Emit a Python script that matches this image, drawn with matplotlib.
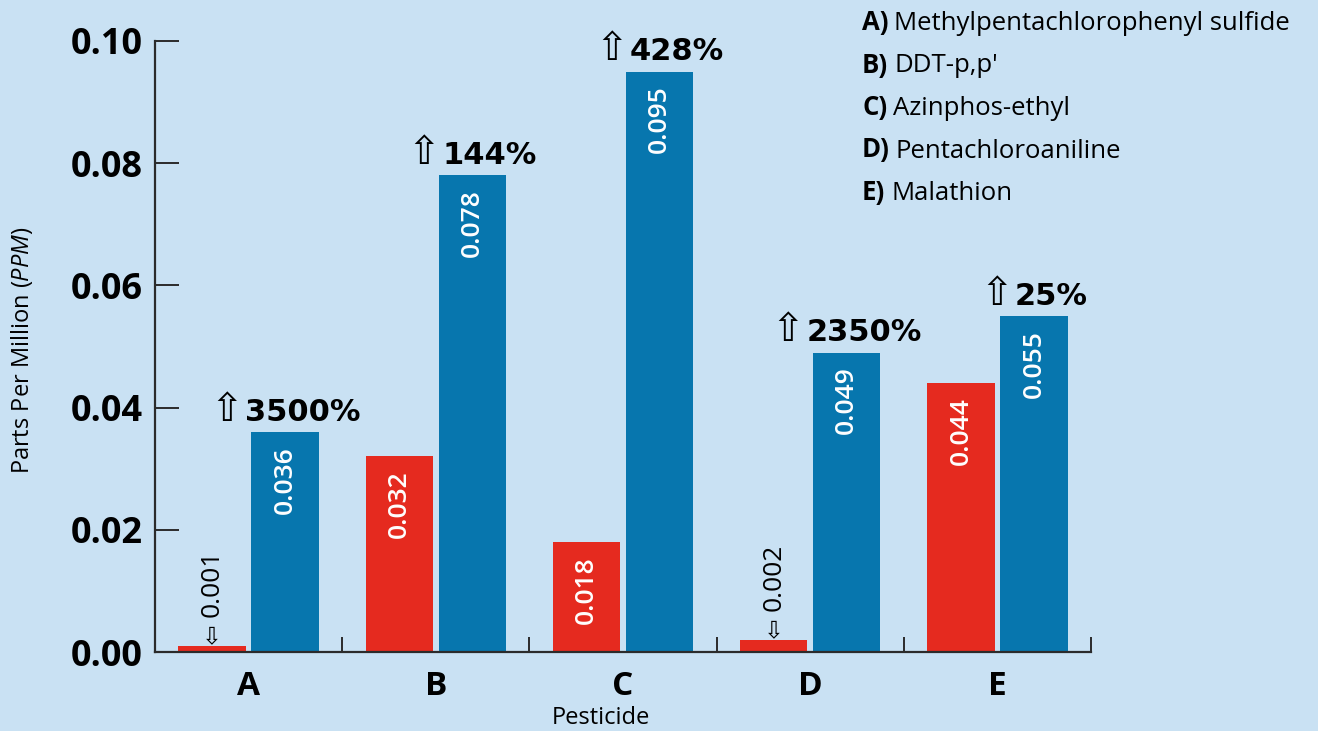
import matplotlib
matplotlib.use("Agg")
import matplotlib.pyplot as plt
import numpy as np

# data
categories = ["A", "B", "C", "D", "E"]
names = ["Methylpentachlorophenyl sulfide", "DDT-p,p'", "Azinphos-ethyl",
         "Pentachloroaniline", "Malathion"]
before = [0.001, 0.032, 0.018, 0.002, 0.044]
after = [0.036, 0.078, 0.095, 0.049, 0.055]
changes = ["3500%", "144%", "428%", "2350%", "25%"]
yticks = [0.00, 0.02, 0.04, 0.06, 0.08, 0.10]

bg = "#c9e1f3"
red = "#e52a1f"
blue = "#0776ae"
ink = "#2b2b2b"

plt.rcParams["font.family"] = ["Open Sans", "DejaVu Sans"]
plt.rcParams["mathtext.fontset"] = "custom"
plt.rcParams["mathtext.rm"] = "Open Sans"
plt.rcParams["mathtext.it"] = "Open Sans:italic"

W, H = 1318, 731
fig = plt.figure(figsize=(W / 100, H / 100), dpi=100, facecolor=bg)
ax = fig.add_axes([155 / W, 1 - 652 / H, (1091 - 155) / W, (652 - 41) / H])
ax.set_facecolor(bg)

x = np.arange(len(categories))
bw = 0.36
off = 0.195
ax.bar(x - off, before, bw, color=red, zorder=2)
ax.bar(x + off, after, bw, color=blue, zorder=2)

ax.set_xlim(-0.5, 4.5)
ax.set_ylim(0, 0.10)
for s in ["top", "right"]:
    ax.spines[s].set_visible(False)
for s in ["left", "bottom"]:
    ax.spines[s].set_color(ink)
    ax.spines[s].set_linewidth(1.6)

ax.set_yticks(yticks)
ax.set_yticklabels([f"{v:.2f}" for v in yticks], fontsize=26, fontweight="bold")
ax.tick_params(axis="y", direction="in", length=17, width=1.4, color=ink, pad=9)

# boundary ticks (major) and category labels (minor)
ax.set_xticks(np.arange(-0.5, 5, 1.0))
ax.set_xticklabels([])
ax.tick_params(axis="x", which="major", direction="in", length=11, width=1.4, color=ink)
ax.set_xticks(x, minor=True)
ax.set_xticklabels(categories, minor=True, fontsize=24, fontweight="bold")
ax.tick_params(axis="x", which="minor", length=0, pad=13)

fig.text(22 / W, 1 - 350 / H, r"Parts Per Million $\mathit{(PPM)}$", rotation=90,
         ha="center", va="center", fontsize=17)
fig.text(601 / W, 1 - 718 / H, "Pesticide", ha="center", va="center", fontsize=17)

# value labels
for i in range(len(categories)):
    ax.annotate(f"{after[i]:.3f}", xy=(x[i] + off, after[i]), xytext=(0, -10),
                textcoords="offset points", rotation=90, ha="center", va="top",
                color="white", fontsize=19, fontweight="semibold", zorder=3)
    if before[i] > 0.01:
        ax.annotate(f"{before[i]:.3f}", xy=(x[i] - off, before[i]), xytext=(0, -10),
                    textcoords="offset points", rotation=90, ha="center", va="top",
                    color="white", fontsize=19, fontweight="semibold", zorder=3)
    else:
        ax.annotate("\u21e9", xy=(x[i] - off, before[i]), xytext=(0, -2),
                    textcoords="offset points", ha="center", va="bottom",
                    fontsize=17, family="DejaVu Sans", color="black")
        ax.annotate(f"{before[i]:.3f}", xy=(x[i] - off, before[i]), xytext=(0, 21),
                    textcoords="offset points", rotation=90, ha="center", va="bottom",
                    color="black", fontsize=19)

# percentage labels: thin arrow + bold number, centred on blue bar
fig.canvas.draw()
r = fig.canvas.get_renderer()
for i in range(len(categories)):
    a = ax.annotate("\u21e7", xy=(x[i] + off, after[i]), xytext=(0, 8),
                    textcoords="offset points", ha="left", va="baseline",
                    fontsize=28, family="DejaVu Sans", color="black")
    t = ax.annotate(changes[i], xy=(x[i] + off, after[i]), xytext=(0, 8),
                    textcoords="offset points", ha="left", va="baseline",
                    fontsize=22, family="DejaVu Sans", fontweight="bold", color="black")
    wa = a.get_window_extent(r).width
    wt = t.get_window_extent(r).width
    gap = 2
    start = -(wa + gap + wt) / 2
    a.set_position((start * 0.72, 8))
    t.set_position(((start + wa + gap) * 0.72, 8))

# key at top right
for i in range(len(categories)):
    yb = 1 - (30 + 42.5 * i) / H
    b = fig.text(862 / W, yb, categories[i] + ")", fontsize=18.5, fontweight="bold",
                 va="baseline", ha="left")
    wb = b.get_window_extent(r).width
    fig.text((862 + wb + 6) / W, yb, names[i], fontsize=18.5, va="baseline", ha="left")

fig.savefig("out.png", dpi=100, facecolor=bg)
